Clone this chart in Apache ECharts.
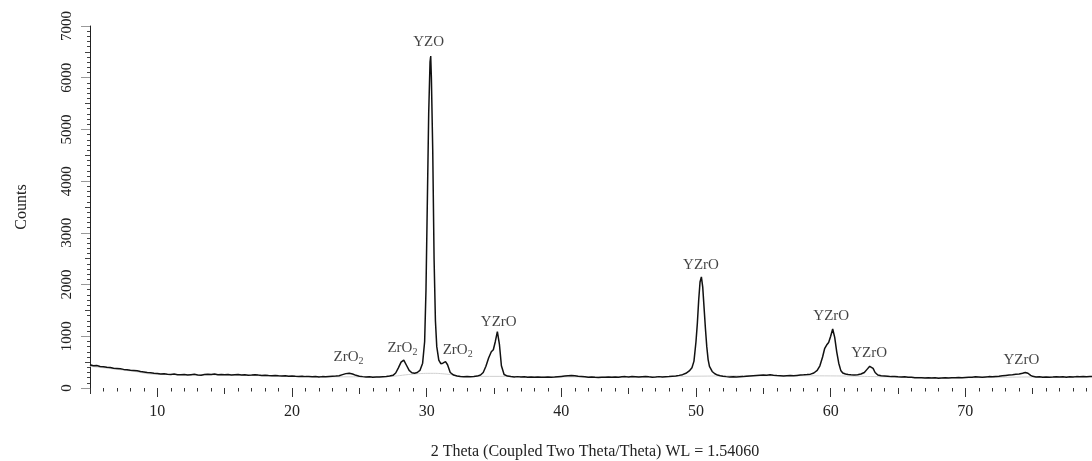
<!DOCTYPE html>
<html>
<head>
<meta charset="utf-8">
<script src="https://cdn.jsdelivr.net/npm/echarts@6/dist/echarts.min.js"></script>
<style>
html,body{margin:0;padding:0;background:#fff;}
#chart{width:1092px;height:461px;}
</style>
</head>
<body>
<div id="chart"></div>
<script>
// Measured XRD pattern: [2theta, counts]
var xrdPattern = [
[5.0,450],[5.25,430],[5.5,435],[5.75,415],[6.0,410],[6.25,400],[6.5,395],[6.75,380],
[7.0,375],[7.25,370],[7.5,360],[7.75,355],[8.0,345],[8.25,340],[8.5,335],[8.75,320],
[9.0,310],[9.25,300],[9.5,295],[9.75,285],[10.0,280],[10.25,270],[10.5,275],[10.75,265],
[11.0,262],[11.25,270],[11.5,258],[11.75,255],[12.0,262],[12.25,250],[12.5,258],[12.75,264],
[13.0,252],[13.25,248],[13.5,260],[13.75,268],[14.0,262],[14.25,270],[14.5,258],[14.75,262],
[15.0,255],[15.25,260],[15.5,250],[15.75,256],[16.0,262],[16.25,252],[16.5,255],[16.75,248],
[17.0,252],[17.25,258],[17.5,250],[17.75,244],[18.0,248],[18.25,240],[18.5,236],[18.75,242],
[19.0,235],[19.25,230],[19.5,238],[19.75,228],[20.0,232],[20.25,226],[20.5,222],[20.75,228],
[21.0,220],[21.25,224],[21.5,216],[21.75,222],[22.0,214],[22.25,220],[22.5,216],[22.75,222],
[23.0,226],[23.25,230],[23.5,238],[23.75,258],[24.0,278],[24.25,285],[24.5,270],[24.75,245],
[25.0,228],[25.25,220],[25.5,214],[25.75,218],[26.0,210],[26.25,214],[26.5,212],[26.75,218],
[27.0,222],[27.25,230],[27.5,245],[27.7,290],[27.9,390],[28.1,500],[28.3,540],[28.5,440],
[28.7,340],[28.9,295],[29.1,285],[29.3,300],[29.5,340],[29.7,480],[29.85,900],[29.95,1900],
[30.05,3600],[30.15,5300],[30.25,6300],[30.3,6420],[30.35,6000],[30.45,4600],[30.55,2500],
[30.65,1300],[30.75,800],[30.9,540],[31.05,470],[31.2,480],[31.4,510],[31.55,450],[31.75,300],
[32.0,250],[32.25,232],[32.5,222],[32.75,218],[33.0,224],[33.25,216],[33.5,222],[33.75,230],
[34.0,250],[34.2,300],[34.4,420],[34.6,580],[34.8,700],[34.95,740],[35.1,900],[35.25,1090],
[35.4,850],[35.55,430],[35.75,260],[36.0,230],[36.25,222],[36.5,215],[36.75,220],[37.0,212],
[37.25,216],[37.5,210],[37.75,214],[38.0,208],[38.25,212],[38.5,206],[38.75,210],[39.0,215],
[39.25,208],[39.5,212],[39.75,218],[40.0,224],[40.25,230],[40.5,236],[40.75,240],[41.0,236],
[41.25,228],[41.5,222],[41.75,216],[42.0,210],[42.25,214],[42.5,208],[42.75,204],[43.0,210],
[43.25,206],[43.5,212],[43.75,208],[44.0,214],[44.25,210],[44.5,216],[44.75,220],[45.0,214],
[45.25,222],[45.5,218],[45.75,212],[46.0,218],[46.25,224],[46.5,216],[46.75,210],[47.0,214],
[47.25,220],[47.5,214],[47.75,218],[48.0,222],[48.25,228],[48.5,234],[48.75,244],[49.0,258],
[49.25,285],[49.5,330],[49.7,390],[49.85,520],[50.0,900],[50.1,1250],[50.2,1700],[50.3,2050],
[50.4,2150],[50.5,1950],[50.6,1550],[50.7,1150],[50.8,800],[50.9,550],[51.0,420],[51.2,320],
[51.4,275],[51.6,250],[51.8,236],[52.0,228],[52.25,220],[52.5,214],[52.75,218],[53.0,212],
[53.25,216],[53.5,220],[53.75,226],[54.0,232],[54.25,238],[54.5,242],[54.75,246],[55.0,250],
[55.25,248],[55.5,254],[55.75,246],[56.0,240],[56.25,236],[56.5,232],[56.75,236],[57.0,240],
[57.25,238],[57.5,244],[57.75,250],[58.0,254],[58.25,260],[58.5,268],[58.75,290],[59.0,340],
[59.2,430],[59.4,600],[59.55,760],[59.7,830],[59.85,880],[60.0,1000],[60.15,1140],[60.3,980],
[60.45,700],[60.6,480],[60.75,340],[60.9,290],[61.1,270],[61.3,262],[61.5,255],[61.75,250],
[62.0,258],[62.25,270],[62.5,300],[62.7,360],[62.9,420],[63.0,425],[63.15,380],[63.3,300],
[63.5,250],[63.75,238],[64.0,232],[64.25,226],[64.5,220],[64.75,224],[65.0,216],[65.25,212],
[65.5,218],[65.75,210],[66.0,206],[66.25,200],[66.5,196],[66.75,200],[67.0,194],[67.25,198],
[67.5,192],[67.75,196],[68.0,190],[68.25,194],[68.5,198],[68.75,192],[69.0,196],[69.25,200],
[69.5,204],[69.75,198],[70.0,202],[70.25,206],[70.5,210],[70.75,216],[71.0,212],[71.25,208],
[71.5,214],[71.75,220],[72.0,216],[72.25,222],[72.5,228],[72.75,236],[73.0,244],[73.25,250],
[73.5,256],[73.75,264],[74.0,270],[74.25,285],[74.45,300],[74.65,285],[74.85,245],[75.0,225],
[75.25,214],[75.5,218],[75.75,210],[76.0,214],[76.25,208],[76.5,212],[76.75,218],[77.0,212],
[77.25,216],[77.5,210],[77.75,218],[78.0,214],[78.25,220],[78.5,216],[78.75,222],[79.0,218],
[79.25,224],[79.45,220]
];

// Fitted background (light grey)
var backgroundCurve = [
[5,420],[8,330],[10,265],[15,252],[20,226],[25,216],[27,222],[29,268],[30.3,284],[31.5,268],
[33,222],[35,225],[40,215],[45,215],[50,228],[55,238],[60,234],[65,212],[70,200],[75,214],[79.45,218]
];

// Peak annotations
var annX    = [24.2, 28.2, 32.3, 30.15, 35.35, 50.37, 60.04, 62.86, 74.16];
var annY    = [600, 780, 740, 6680, 1280, 2380, 1395, 680, 545];
var annText = ['ZrO2','ZrO2','ZrO2','YZO','YZrO','YZrO','YZrO','YZrO','YZrO'];

var xTickMajor = [10,20,30,40,50,60,70];
var yTickMajor = [0,1000,2000,3000,4000,5000,6000,7000];

var FONT = 'Liberation Serif';

var annData = annX.map(function(x,i){ return {value:[x, annY[i]], name: annText[i]}; });

var chart = echarts.init(document.getElementById('chart'), null, {renderer:'canvas'});
chart.setOption({
  animation:false,
  backgroundColor:'#ffffff',
  grid:{left:90, right:-8, top:26, bottom:73, containLabel:false, outerBoundsMode:'none'},
  xAxis:[{
    type:'value', min:5, max:80, interval:5,
    axisLine:{show:false},
    axisTick:{show:true, length:6, lineStyle:{color:'#333', width:1}},
    minorTick:{show:true, splitNumber:5, length:3.5, lineStyle:{color:'#333', width:1}},
    splitLine:{show:false}, minorSplitLine:{show:false},
    axisLabel:{customValues:xTickMajor, margin:16, fontFamily:FONT, fontSize:16, color:'#222',
      formatter:function(v){ return String(v); }},
    name:'2 Theta (Coupled Two Theta/Theta) WL = 1.54060',
    nameLocation:'middle', nameGap:56,
    nameTextStyle:{fontFamily:FONT, fontSize:16, color:'#222'}
  },{
    type:'value', min:5, max:80, position:'bottom', offset:0,
    axisLine:{show:false},
    axisTick:{show:true, customValues:xTickMajor, length:9, lineStyle:{color:'#333', width:1}},
    axisLabel:{show:false}, splitLine:{show:false}
  }],
  yAxis:[{
    type:'value', min:0, max:7000, interval:500,
    axisLine:{show:true, lineStyle:{color:'#222', width:1}},
    axisTick:{show:true, length:5, lineStyle:{color:'#444', width:1}},
    minorTick:{show:true, splitNumber:5, length:3, lineStyle:{color:'#444', width:1}},
    splitLine:{show:false}, minorSplitLine:{show:false},
    axisLabel:{customValues:yTickMajor, rotate:90, margin:15, fontFamily:FONT, fontSize:15, color:'#222',
      formatter:function(v){ return String(v); }},
    name:'Counts', nameLocation:'middle', nameGap:60,
    nameTextStyle:{fontFamily:FONT, fontSize:16, color:'#222'}
  },{
    type:'value', min:0, max:7000, position:'left', offset:0,
    axisLine:{show:false},
    axisTick:{show:true, customValues:yTickMajor, length:9, lineStyle:{color:'#999', width:1}},
    axisLabel:{show:false}, splitLine:{show:false}
  }],
  series:[{
    type:'line', name:'background', data:backgroundCurve, smooth:true, showSymbol:false,
    lineStyle:{color:'#d0d0d0', width:1}, z:1, silent:true
  },{
    type:'line', name:'pattern', data:xrdPattern, showSymbol:false,
    lineStyle:{color:'#111', width:1.5}, z:3, silent:true
  },{
    type:'scatter', name:'labels', data:annData, symbolSize:0, z:5, silent:true,
    label:{
      show:true, position:'inside',
      formatter:function(p){
        var t = p.name;
        if (t === 'ZrO2') return '{m|ZrO}{s|2}';
        return '{m|' + t + '}';
      },
      rich:{
        m:{fontFamily:FONT, fontSize:15, color:'#111', lineHeight:17},
        s:{fontFamily:FONT, fontSize:10, color:'#111', lineHeight:17, padding:[9,0,0,0]}
      }
    }
  }]
});
</script>
</body>
</html>
